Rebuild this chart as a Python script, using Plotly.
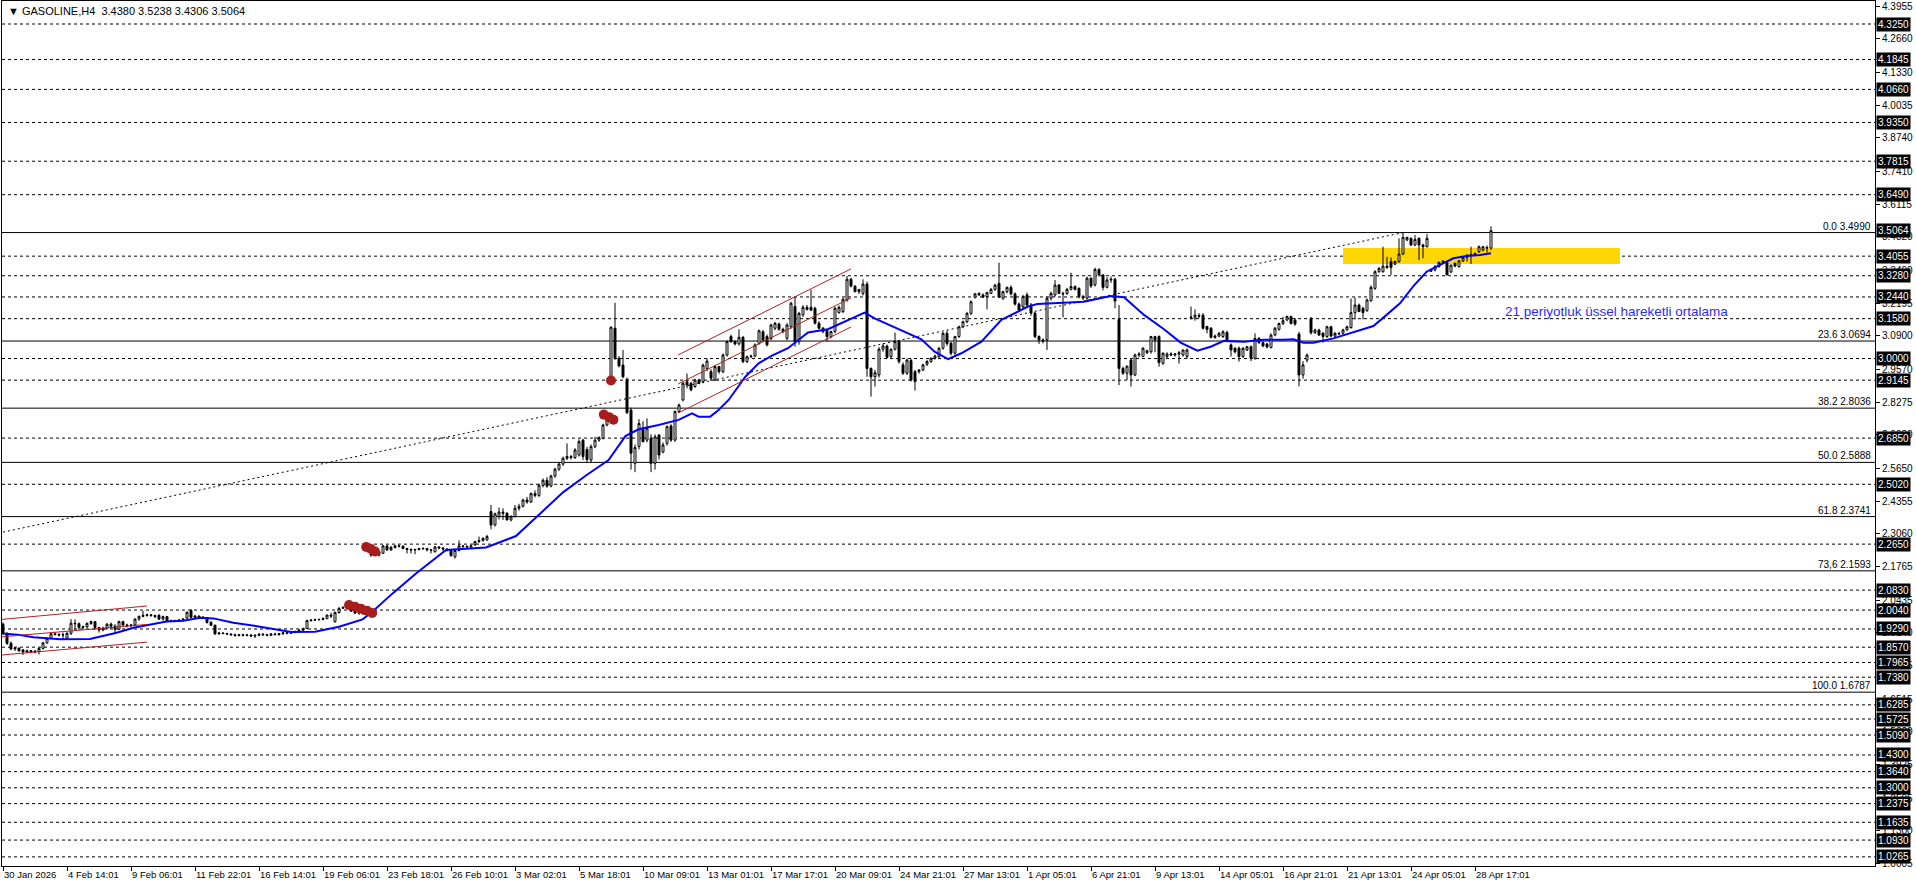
import plotly.graph_objects as go

# --- data ---
header_text = "▼\u00a0GASOLINE,H4\u00a0\u00a03.4380\u00a03.5238\u00a03.4306\u00a03.5064"

x_labels = ["30 Jan 2026", "4 Feb 14:01", "9 Feb 06:01", "11 Feb 22:01", "16 Feb 14:01",
            "19 Feb 06:01", "23 Feb 18:01", "26 Feb 10:01", "3 Mar 02:01", "5 Mar 18:01",
            "10 Mar 09:01", "13 Mar 01:01", "17 Mar 17:01", "20 Mar 09:01", "24 Mar 21:01",
            "27 Mar 13:01", "1 Apr 05:01", "6 Apr 21:01", "9 Apr 13:01", "14 Apr 05:01",
            "16 Apr 21:01", "21 Apr 13:01", "24 Apr 05:01", "28 Apr 17:01"]
bars_per_label = 16

opens = [
    1.948, 1.912, 1.872, 1.850, 1.853, 1.846, 1.838, 1.843, 1.838, 1.840,
    1.852, 1.874, 1.892, 1.910, 1.907, 1.905, 1.893, 1.912, 1.952, 1.950,
    1.935, 1.938, 1.951, 1.958, 1.935, 1.925, 1.932, 1.948, 1.940, 1.928,
    1.958, 1.945, 1.942, 1.945, 1.968, 1.979, 1.983, 1.985, 1.982, 1.983,
    1.968, 1.978, 1.960, 1.962, 1.960, 1.964, 1.972, 2.002, 1.975, 1.980,
    1.976, 1.973, 1.955, 1.944, 1.910, 1.913, 1.911, 1.909, 1.906, 1.903,
    1.906, 1.904, 1.905, 1.901, 1.904, 1.908, 1.906, 1.904, 1.909, 1.907,
    1.911, 1.914, 1.912, 1.917, 1.919, 1.924, 1.931, 1.962, 1.964, 1.966,
    1.967, 1.970, 1.984, 1.958, 1.994, 2.011, 2.014, 2.011, 2.004, 1.992,
    2.002, 1.990, 2.222, 2.226, 2.222, 2.229, 2.258, 2.242, 2.252, 2.258,
    2.257, 2.248, 2.244, 2.242, 2.244, 2.247, 2.248, 2.242, 2.235, 2.254,
    2.250, 2.246, 2.240, 2.215, 2.240, 2.258, 2.256, 2.254, 2.262, 2.275,
    2.279, 2.282, 2.394, 2.341, 2.375, 2.392, 2.387, 2.361, 2.374, 2.407,
    2.415, 2.440, 2.432, 2.465, 2.458, 2.498, 2.518, 2.495, 2.535, 2.562,
    2.582, 2.605, 2.612, 2.608, 2.618, 2.677, 2.640, 2.598, 2.651, 2.677,
    2.684, 2.737, 2.915, 3.120, 3.001, 2.974, 2.918, 2.796, 2.585, 2.652,
    2.724, 2.677, 2.684, 2.585, 2.697, 2.630, 2.664, 2.733, 2.677, 2.790,
    2.836, 2.908, 2.902, 2.889, 2.915, 2.908, 2.960, 2.948, 2.916, 2.968,
    2.948, 3.014, 3.087, 3.067, 3.058, 3.084, 2.988, 3.007, 3.010, 3.060,
    3.106, 3.087, 3.080, 3.120, 3.137, 3.116, 3.080, 3.126, 3.206, 3.067,
    3.173, 3.203, 3.203, 3.199, 3.140, 3.120, 3.111, 3.087, 3.107, 3.182,
    3.186, 3.232, 3.314, 3.287, 3.265, 3.258, 3.295, 2.961, 2.928, 2.935,
    3.037, 3.050, 3.008, 3.037, 3.067, 2.975, 2.942, 2.992, 2.948, 2.948,
    2.955, 2.977, 2.988, 3.001, 3.008, 3.041, 3.100, 3.061, 3.021, 3.087,
    3.126, 3.146, 3.179, 3.243, 3.252, 3.252, 3.245, 3.258, 3.274, 3.298,
    3.239, 3.265, 3.282, 3.256, 3.216, 3.205, 3.252, 3.212, 3.180, 3.087,
    3.074, 3.074, 3.239, 3.252, 3.291, 3.258, 3.258, 3.274, 3.285, 3.278,
    3.245, 3.239, 3.318, 3.292, 3.353, 3.331, 3.282, 3.311, 3.314, 3.155,
    2.961, 2.942, 2.994, 2.935, 3.014, 3.008, 3.023, 3.027, 3.087, 3.087,
    2.981, 3.008, 3.018, 3.014, 3.018, 3.014, 3.008, 3.165, 3.160, 3.170,
    3.172, 3.127, 3.120, 3.084, 3.089, 3.087, 3.103, 3.054, 3.041, 3.041,
    3.008, 3.034, 3.047, 3.001, 3.080, 3.063, 3.058, 3.044, 3.093, 3.116,
    3.139, 3.153, 3.166, 3.153, 3.097, 2.935, 2.994, 3.159, 3.102, 3.113,
    3.100, 3.087, 3.126, 3.089, 3.100, 3.100, 3.113, 3.123, 3.182, 3.212,
    3.199, 3.190, 3.229, 3.278, 3.344, 3.344, 3.366, 3.384, 3.374, 3.384,
    3.414, 3.470, 3.476, 3.450, 3.476, 3.450, 3.443, 3.351, 3.351, 3.364,
    3.381, 3.380, 3.343, 3.377, 3.364, 3.387, 3.401, 3.410, 3.412, 3.423,
    3.430, 3.440, 3.4380]

highs = [
    1.955, 1.915, 1.880, 1.858, 1.856, 1.850, 1.848, 1.846, 1.845, 1.855,
    1.878, 1.895, 1.915, 1.916, 1.912, 1.915, 1.916, 1.968, 1.967, 1.955,
    1.942, 1.955, 1.962, 1.960, 1.938, 1.938, 1.952, 1.955, 1.948, 1.962,
    1.962, 1.950, 1.948, 1.972, 1.982, 2.000, 1.990, 1.988, 1.986, 1.988,
    1.982, 1.980, 1.966, 1.966, 1.968, 1.972, 1.998, 2.008, 1.985, 1.982,
    1.980, 1.976, 1.960, 1.946, 1.918, 1.916, 1.914, 1.912, 1.911, 1.909,
    1.910, 1.908, 1.908, 1.907, 1.912, 1.913, 1.910, 1.912, 1.914, 1.913,
    1.917, 1.918, 1.920, 1.923, 1.928, 1.934, 1.966, 1.968, 1.970, 1.969,
    1.975, 1.986, 1.994, 1.998, 2.015, 2.020, 2.022, 2.016, 2.008, 2.000,
    2.006, 1.996, 2.232, 2.230, 2.238, 2.262, 2.262, 2.258, 2.262, 2.262,
    2.260, 2.250, 2.248, 2.246, 2.250, 2.252, 2.250, 2.246, 2.258, 2.256,
    2.252, 2.248, 2.242, 2.242, 2.280, 2.262, 2.260, 2.262, 2.278, 2.295,
    2.292, 2.302, 2.420, 2.390, 2.410, 2.407, 2.392, 2.380, 2.420, 2.425,
    2.445, 2.452, 2.470, 2.478, 2.505, 2.525, 2.530, 2.540, 2.568, 2.590,
    2.612, 2.664, 2.618, 2.645, 2.680, 2.682, 2.650, 2.660, 2.690, 2.692,
    2.742, 2.770, 3.128, 3.221, 3.010, 3.034, 2.925, 2.805, 2.660, 2.760,
    2.752, 2.763, 2.700, 2.700, 2.700, 2.668, 2.735, 2.740, 2.795, 2.822,
    2.908, 2.941, 2.908, 2.920, 2.920, 2.980, 3.000, 2.958, 2.975, 2.972,
    3.020, 3.072, 3.095, 3.072, 3.116, 3.090, 3.012, 3.015, 3.060, 3.115,
    3.112, 3.095, 3.138, 3.145, 3.142, 3.122, 3.140, 3.225, 3.245, 3.185,
    3.212, 3.212, 3.272, 3.205, 3.148, 3.125, 3.118, 3.110, 3.205, 3.210,
    3.240, 3.327, 3.320, 3.290, 3.275, 3.314, 3.305, 2.965, 2.955, 3.045,
    3.060, 3.055, 3.040, 3.103, 3.072, 2.985, 3.000, 3.000, 2.955, 2.958,
    2.980, 2.995, 3.005, 3.015, 3.045, 3.105, 3.110, 3.066, 3.090, 3.130,
    3.150, 3.185, 3.230, 3.260, 3.262, 3.258, 3.265, 3.280, 3.295, 3.380,
    3.268, 3.285, 3.290, 3.262, 3.222, 3.252, 3.262, 3.220, 3.185, 3.092,
    3.080, 3.245, 3.265, 3.311, 3.295, 3.265, 3.280, 3.340, 3.290, 3.282,
    3.252, 3.325, 3.322, 3.360, 3.358, 3.335, 3.322, 3.325, 3.320, 3.212,
    2.968, 2.972, 3.000, 3.020, 3.025, 3.045, 3.035, 3.090, 3.090, 3.092,
    3.025, 3.025, 3.025, 3.022, 3.030, 3.035, 3.040, 3.206, 3.195, 3.180,
    3.180, 3.130, 3.125, 3.095, 3.105, 3.112, 3.110, 3.060, 3.045, 3.048,
    3.045, 3.050, 3.052, 3.100, 3.085, 3.068, 3.062, 3.100, 3.125, 3.142,
    3.165, 3.170, 3.170, 3.160, 3.106, 2.990, 3.020, 3.165, 3.118, 3.118,
    3.105, 3.130, 3.130, 3.105, 3.106, 3.118, 3.130, 3.238, 3.242, 3.218,
    3.205, 3.238, 3.290, 3.350, 3.362, 3.443, 3.403, 3.400, 3.388, 3.476,
    3.498, 3.482, 3.480, 3.489, 3.480, 3.455, 3.493, 3.356, 3.370, 3.384,
    3.390, 3.385, 3.372, 3.380, 3.390, 3.401, 3.412, 3.443, 3.420, 3.448,
    3.445, 3.448, 3.5238]

lows = [
    1.905, 1.866, 1.845, 1.842, 1.838, 1.826, 1.833, 1.834, 1.832, 1.828,
    1.848, 1.870, 1.888, 1.903, 1.900, 1.885, 1.888, 1.905, 1.925, 1.925,
    1.928, 1.932, 1.945, 1.925, 1.915, 1.920, 1.928, 1.930, 1.915, 1.925,
    1.938, 1.935, 1.935, 1.940, 1.962, 1.975, 1.978, 1.978, 1.972, 1.965,
    1.962, 1.955, 1.955, 1.956, 1.958, 1.960, 1.968, 1.970, 1.972, 1.972,
    1.968, 1.950, 1.940, 1.905, 1.905, 1.908, 1.905, 1.902, 1.898, 1.900,
    1.899, 1.900, 1.897, 1.893, 1.900, 1.902, 1.900, 1.901, 1.903, 1.902,
    1.905, 1.908, 1.909, 1.912, 1.915, 1.920, 1.928, 1.958, 1.960, 1.962,
    1.963, 1.968, 1.972, 1.954, 1.990, 2.008, 2.010, 1.996, 1.988, 1.985,
    1.985, 1.982, 2.215, 2.218, 2.216, 2.226, 2.238, 2.238, 2.248, 2.252,
    2.245, 2.228, 2.228, 2.225, 2.240, 2.242, 2.236, 2.228, 2.232, 2.245,
    2.238, 2.236, 2.215, 2.208, 2.236, 2.250, 2.248, 2.250, 2.258, 2.270,
    2.276, 2.278, 2.324, 2.335, 2.363, 2.361, 2.359, 2.355, 2.370, 2.398,
    2.410, 2.425, 2.428, 2.450, 2.452, 2.490, 2.488, 2.490, 2.528, 2.555,
    2.575, 2.598, 2.600, 2.602, 2.612, 2.598, 2.590, 2.590, 2.645, 2.670,
    2.680, 2.732, 2.905, 2.995, 2.965, 2.922, 2.780, 2.560, 2.550, 2.640,
    2.668, 2.668, 2.550, 2.560, 2.600, 2.625, 2.655, 2.670, 2.670, 2.785,
    2.830, 2.882, 2.870, 2.884, 2.898, 2.902, 2.950, 2.915, 2.910, 2.940,
    2.942, 3.008, 3.062, 3.052, 3.052, 2.982, 2.982, 3.002, 3.005, 3.055,
    3.068, 3.048, 3.072, 3.112, 3.110, 3.100, 3.072, 3.118, 3.047, 3.055,
    3.165, 3.190, 3.188, 3.135, 3.115, 3.100, 3.067, 3.080, 3.100, 3.178,
    3.180, 3.225, 3.282, 3.262, 3.255, 3.250, 2.928, 2.849, 2.889, 2.925,
    3.027, 3.000, 3.002, 3.032, 2.980, 2.935, 2.935, 2.909, 2.873, 2.940,
    2.950, 2.970, 2.983, 2.996, 3.002, 3.035, 3.050, 3.012, 3.015, 3.082,
    3.120, 3.140, 3.172, 3.238, 3.248, 3.240, 3.195, 3.255, 3.268, 3.240,
    3.232, 3.258, 3.250, 3.210, 3.185, 3.195, 3.205, 3.170, 3.080, 3.058,
    3.060, 3.034, 3.230, 3.245, 3.255, 3.163, 3.252, 3.270, 3.270, 3.238,
    3.232, 3.232, 3.280, 3.285, 3.325, 3.270, 3.278, 3.300, 3.199, 2.895,
    2.935, 2.915, 2.889, 2.930, 3.005, 3.005, 3.018, 3.020, 3.025, 2.968,
    2.975, 3.002, 3.010, 3.008, 2.980, 3.008, 3.000, 3.155, 3.150, 3.160,
    3.115, 3.100, 3.080, 3.078, 3.085, 3.082, 3.070, 3.008, 3.020, 2.988,
    3.002, 3.030, 2.990, 2.995, 3.058, 3.045, 3.040, 3.040, 3.088, 3.110,
    3.132, 3.148, 3.135, 3.130, 2.890, 2.920, 2.985, 3.095, 3.098, 3.090,
    3.063, 3.082, 3.085, 3.085, 3.095, 3.095, 3.110, 3.118, 3.155, 3.185,
    3.155, 3.185, 3.225, 3.272, 3.340, 3.340, 3.355, 3.331, 3.370, 3.380,
    3.410, 3.465, 3.446, 3.445, 3.390, 3.397, 3.440, 3.343, 3.345, 3.360,
    3.375, 3.331, 3.338, 3.362, 3.360, 3.383, 3.384, 3.375, 3.405, 3.418,
    3.425, 3.420, 3.4306]

closes = [
    1.912, 1.872, 1.850, 1.853, 1.843, 1.838, 1.843, 1.838, 1.841, 1.852,
    1.874, 1.892, 1.910, 1.907, 1.905, 1.906, 1.912, 1.952, 1.950, 1.935,
    1.938, 1.951, 1.958, 1.935, 1.925, 1.932, 1.948, 1.940, 1.928, 1.958,
    1.945, 1.942, 1.945, 1.968, 1.979, 1.983, 1.985, 1.982, 1.978, 1.968,
    1.978, 1.960, 1.962, 1.960, 1.964, 1.968, 1.995, 1.975, 1.980, 1.976,
    1.973, 1.955, 1.944, 1.910, 1.913, 1.911, 1.909, 1.906, 1.903, 1.906,
    1.904, 1.905, 1.901, 1.904, 1.908, 1.906, 1.904, 1.909, 1.907, 1.911,
    1.914, 1.912, 1.917, 1.919, 1.924, 1.931, 1.962, 1.964, 1.966, 1.967,
    1.970, 1.984, 1.980, 1.994, 2.011, 2.014, 2.016, 2.000, 1.992, 1.998,
    1.990, 1.988, 2.226, 2.224, 2.235, 2.258, 2.242, 2.252, 2.258, 2.257,
    2.248, 2.244, 2.242, 2.244, 2.247, 2.248, 2.242, 2.241, 2.254, 2.250,
    2.246, 2.240, 2.220, 2.240, 2.258, 2.256, 2.254, 2.258, 2.275, 2.279,
    2.288, 2.295, 2.341, 2.385, 2.392, 2.387, 2.361, 2.374, 2.407, 2.415,
    2.440, 2.432, 2.465, 2.458, 2.498, 2.518, 2.495, 2.535, 2.562, 2.582,
    2.605, 2.612, 2.608, 2.638, 2.671, 2.612, 2.600, 2.651, 2.677, 2.687,
    2.737, 2.763, 3.124, 3.001, 2.971, 2.928, 2.786, 2.625, 2.648, 2.743,
    2.671, 2.724, 2.585, 2.690, 2.618, 2.658, 2.730, 2.677, 2.790, 2.816,
    2.902, 2.895, 2.876, 2.915, 2.902, 2.974, 2.990, 2.922, 2.968, 2.948,
    3.014, 3.067, 3.067, 3.058, 3.084, 2.988, 3.007, 3.010, 3.054, 3.110,
    3.074, 3.054, 3.133, 3.140, 3.116, 3.107, 3.133, 3.219, 3.067, 3.179,
    3.203, 3.195, 3.192, 3.140, 3.120, 3.107, 3.087, 3.107, 3.199, 3.203,
    3.235, 3.314, 3.287, 3.265, 3.274, 3.295, 2.961, 2.928, 2.944, 3.037,
    3.050, 3.005, 3.037, 3.067, 2.988, 2.942, 2.994, 2.915, 2.909, 2.955,
    2.975, 2.988, 3.001, 3.010, 3.041, 3.100, 3.060, 3.021, 3.087, 3.126,
    3.146, 3.179, 3.225, 3.256, 3.258, 3.243, 3.261, 3.274, 3.291, 3.243,
    3.265, 3.282, 3.256, 3.216, 3.192, 3.245, 3.212, 3.180, 3.087, 3.074,
    3.070, 3.239, 3.258, 3.291, 3.258, 3.256, 3.274, 3.285, 3.274, 3.245,
    3.240, 3.318, 3.287, 3.353, 3.331, 3.282, 3.311, 3.314, 3.228, 2.961,
    2.942, 2.970, 2.935, 3.014, 3.018, 3.041, 3.031, 3.087, 3.074, 2.984,
    3.021, 3.018, 3.014, 3.018, 3.023, 3.034, 3.034, 3.163, 3.172, 3.168,
    3.120, 3.116, 3.084, 3.089, 3.100, 3.106, 3.074, 3.034, 3.027, 3.008,
    3.041, 3.047, 3.001, 3.080, 3.063, 3.050, 3.046, 3.093, 3.120, 3.139,
    3.150, 3.166, 3.139, 3.137, 2.935, 2.975, 3.014, 3.102, 3.113, 3.093,
    3.087, 3.126, 3.089, 3.100, 3.097, 3.113, 3.126, 3.182, 3.212, 3.186,
    3.182, 3.232, 3.282, 3.344, 3.357, 3.366, 3.361, 3.361, 3.384, 3.414,
    3.480, 3.480, 3.450, 3.472, 3.450, 3.443, 3.476, 3.346, 3.364, 3.381,
    3.385, 3.331, 3.370, 3.366, 3.387, 3.400, 3.410, 3.412, 3.416, 3.443,
    3.443, 3.438, 3.5064]

assert len(opens) == len(highs) == len(lows) == len(closes)
bars = list(range(len(closes)))

# 21 period EMA at these bars
ema_x = [0, 4.25, 7.6, 14.25, 21.75, 24.25, 28.4, 32.6, 35.9, 40.9, 45.1, 49.25, 52.6,
         57.6, 64.25, 72, 78, 84, 89.9, 92.4, 97.4, 103.25, 110.75, 120.75, 128.25, 134,
         140, 146, 151.4, 155.6, 158.9, 163.9, 168.9, 172.25, 173.9, 176.8, 178.9, 181.4,
         185.6, 188.9, 192.25, 196.25, 201.25, 206.25, 211.25, 215.4, 217.9, 224.6, 229.6,
         232.9, 236.25, 239.6, 244.6, 249.6, 256.25, 258.6, 263.6, 270.25, 276.9, 280.25,
         285.25, 290.25, 294.4, 298.6, 301.9, 305.25, 310.25, 315.25, 320.25, 322.6, 325.1,
         327.6, 332.6, 337.6, 342.6, 345.9, 349.25, 352.6, 355.9, 359.25, 362.6, 365.9,
         369.25, 372]
ema_y = [1.911, 1.905, 1.896, 1.888, 1.889, 1.899, 1.914, 1.934, 1.945, 1.959, 1.962, 1.973,
         1.971, 1.954, 1.938, 1.917, 1.918, 1.938, 1.967, 1.998, 2.070, 2.149, 2.242, 2.252,
         2.297, 2.380, 2.470, 2.540, 2.598, 2.693, 2.720, 2.737, 2.757, 2.783, 2.770, 2.770,
         2.796, 2.836, 2.928, 2.981, 3.012, 3.041, 3.103, 3.116, 3.153, 3.182, 3.159, 3.111,
         3.076, 3.027, 2.998, 3.021, 3.067, 3.153, 3.206, 3.216, 3.219, 3.225, 3.248, 3.243,
         3.173, 3.116, 3.063, 3.031, 3.047, 3.070, 3.067, 3.074, 3.074, 3.076, 3.063, 3.063,
         3.080, 3.103, 3.129, 3.173, 3.219, 3.287, 3.344, 3.371, 3.397, 3.406, 3.410, 3.417]

# horizontal price levels (dashed, boxed on the axis)
level_prices = [4.3250, 4.1845, 4.0660, 3.9350, 3.7815, 3.6490, 3.4055, 3.3280, 3.2440,
                3.1580, 3.0000, 2.9145, 2.6850, 2.5020, 2.2650, 2.0830, 2.0040, 1.9290,
                1.8570, 1.7965, 1.7380, 1.6285, 1.5725, 1.5090, 1.4300, 1.3640, 1.3000,
                1.2375, 1.1635, 1.0930, 1.0265]
last_price = 3.5064
axis_ticks = [4.3955, 4.2660, 4.1330, 4.0035, 3.8740, 3.7410, 3.6115, 3.4820, 3.3490,
              3.2195, 3.0900, 2.9570, 2.8275, 2.6980, 2.5650, 2.4355, 2.3060, 2.1765,
              2.0435, 1.9140, 1.7845, 1.6515, 1.5220, 1.3925, 1.2595, 1.1300, 1.0005]

# fibonacci retracement
fib_names = ["0.0", "23.6", "38.2", "50.0", "61.8", "73,6", "100.0"]
fib_prices = [3.4990, 3.0694, 2.8036, 2.5888, 2.3741, 2.1593, 1.6787]
fib_anchor_bars = [-187, 350]

# regression channels (bar start/end, price start/end for top, middle, bottom)
channels = [
    ([-0.25, 36], [[1.967, 2.020], [1.898, 1.947], [1.826, 1.877]]),
    ([168.75, 212], [[3.014, 3.355], [2.899, 3.240], [2.784, 3.125]]),
]

zone_bars = [335, 404.25]
zone_prices = [3.3745, 3.438]

marks_x = [86.5, 88.0, 89.5, 91.0, 92.3, 90.8, 92.0, 93.0, 150.2, 151.5, 152.6, 152.0]
marks_y = [2.024, 2.017, 2.009, 2.001, 1.992, 2.254, 2.246, 2.236, 2.778, 2.768, 2.758, 2.913]

ema_note = "21 periyotluk üssel hareketli ortalama"
ema_note_bar, ema_note_price = 375, 3.1845

FONT = "Liberation Sans, Arial, sans-serif"

fig = go.Figure()

fig.add_trace(go.Candlestick(
    x=bars, open=opens, high=highs, low=lows, close=closes,
    increasing=dict(line=dict(color="black", width=1), fillcolor="white"),
    decreasing=dict(line=dict(color="black", width=1), fillcolor="black"),
    whiskerwidth=0, showlegend=False, hoverinfo="skip"))

fig.add_trace(go.Scatter(x=ema_x, y=ema_y, mode="lines",
                         line=dict(color="#0000ff", width=2),
                         showlegend=False, hoverinfo="skip"))

fig.add_trace(go.Scatter(x=marks_x, y=marks_y, mode="markers",
                         marker=dict(color="#a81c1c", size=10, line=dict(width=0)),
                         showlegend=False, hoverinfo="skip"))

# yellow zone
fig.add_shape(type="rect", xref="x", yref="y", x0=zone_bars[0], x1=zone_bars[1],
              y0=zone_prices[0], y1=zone_prices[1], fillcolor="#ffd700",
              line=dict(width=0), layer="below")

for p in level_prices:
    fig.add_shape(type="line", xref="paper", yref="y", x0=0, x1=1, y0=p, y1=p,
                  line=dict(color="black", width=1, dash="3px,3px"), layer="below")
    fig.add_annotation(x=1, xref="paper", y=p, yref="y", text=f"{p:.4f}",
                       xanchor="left", yanchor="middle", xshift=1, showarrow=False,
                       font=dict(family=FONT, size=10, color="white"),
                       bgcolor="black", borderpad=1)

for name, p in zip(fib_names, fib_prices):
    fig.add_shape(type="line", xref="paper", yref="y", x0=0, x1=1, y0=p, y1=p,
                  line=dict(color="black", width=1), layer="below")
    fig.add_annotation(x=1, xref="paper", y=p, yref="y", text=f"{name} {p:.4f}",
                       xanchor="right", yanchor="bottom", xshift=-2, yshift=-1,
                       showarrow=False, font=dict(family=FONT, size=10, color="black"))

# fib trend line
fig.add_shape(type="line", xref="x", yref="y",
              x0=fib_anchor_bars[0], y0=fib_prices[-1], x1=fib_anchor_bars[1], y1=fib_prices[0],
              line=dict(color="black", width=1, dash="2px,3px"), layer="below")

for cb, lines in channels:
    for ys in lines:
        fig.add_shape(type="line", xref="x", yref="y", x0=cb[0], x1=cb[1], y0=ys[0], y1=ys[1],
                      line=dict(color="#b22222", width=1), layer="above")

# current price box
fig.add_annotation(x=1, xref="paper", y=last_price, yref="y", text=f"{last_price:.4f}",
                   xanchor="left", yanchor="middle", xshift=1, showarrow=False,
                   font=dict(family=FONT, size=10, color="white"),
                   bgcolor="black", borderpad=1)

fig.add_annotation(x=ema_note_bar, y=ema_note_price, text=ema_note, xanchor="left",
                   yanchor="middle", showarrow=False,
                   font=dict(family=FONT, size=13.5, color="#2b2bff"))

fig.add_annotation(x=0, xref="paper", y=1, yref="paper", text=header_text,
                   xanchor="left", yanchor="top", xshift=4, yshift=-2, showarrow=False,
                   font=dict(family=FONT, size=11, color="black"))

tick_bars = [i * bars_per_label for i in range(len(x_labels))]

fig.update_layout(
    width=1916, height=888, autosize=False,
    margin=dict(l=2, r=41, t=1, b=22, pad=0),
    paper_bgcolor="white", plot_bgcolor="white",
    hovermode=False, showlegend=False,
    xaxis=dict(range=[-0.25, 468], tickmode="array", tickvals=tick_bars, ticktext=x_labels,
               ticks="outside", ticklen=4, tickcolor="black", ticklabelposition="outside right",
               tickangle=0, automargin=False,
               showgrid=False, zeroline=False, showline=True, linecolor="black", linewidth=1,
               mirror=True, rangeslider=dict(visible=False),
               tickfont=dict(family=FONT, size=9.5, color="black")),
    yaxis=dict(range=[0.9903, 4.4161], side="right", tickmode="array", tickvals=axis_ticks,
               ticktext=[f"{t:.4f}" for t in axis_ticks], ticks="outside", ticklen=4,
               tickcolor="black", showgrid=False, zeroline=False, showline=True,
               linecolor="black", linewidth=1, mirror=True, automargin=False,
               tickfont=dict(family=FONT, size=10, color="black")),
)

fig.write_html("out.html", config={"displayModeBar": False},
               post_script="document.body.style.margin='0';document.body.style.overflow='hidden';")
